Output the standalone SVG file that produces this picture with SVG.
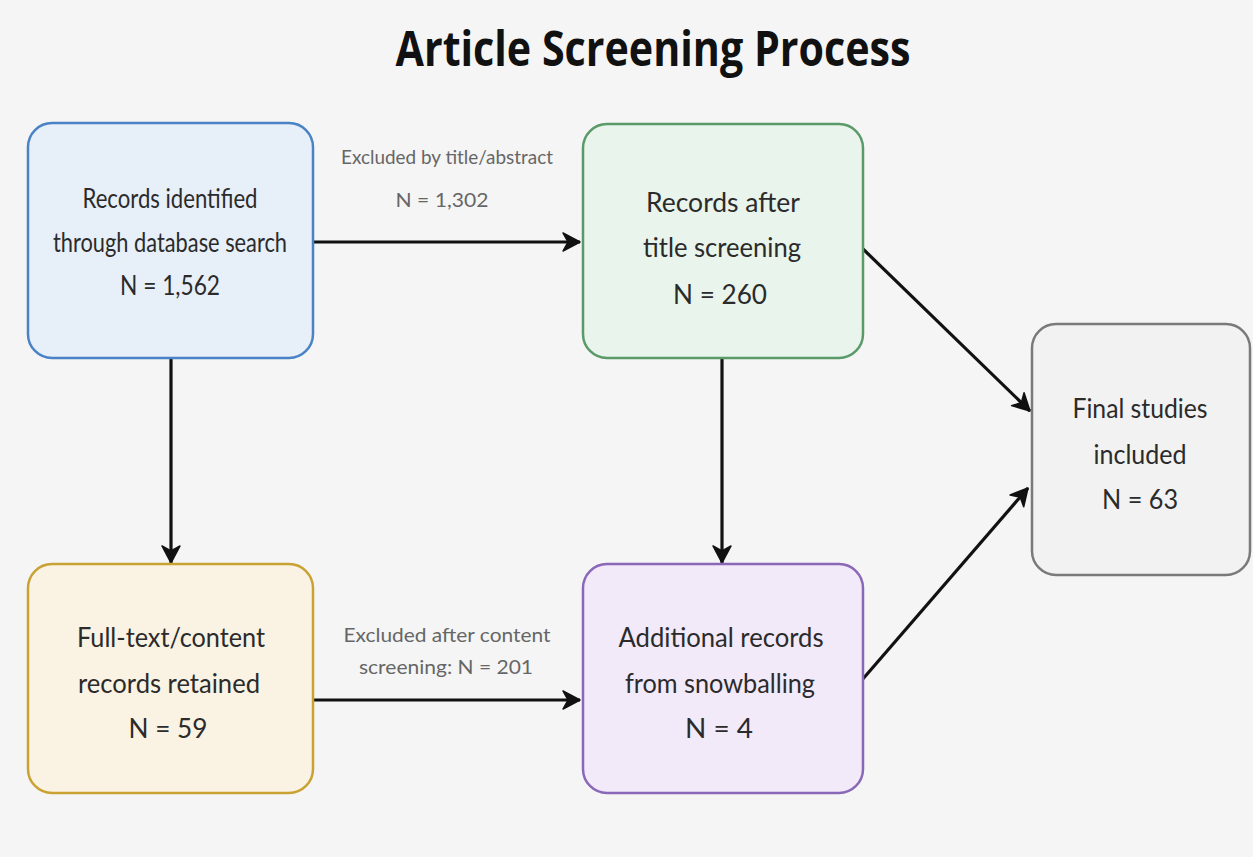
<svg xmlns="http://www.w3.org/2000/svg" width="1253" height="857" viewBox="0 0 1253 857">
<defs>
<style>
.bg{fill:#f5f5f5}
.box{stroke-width:2.5}
.t{font-family:Lato,"Noto Sans","Liberation Sans",sans-serif;font-size:26px;fill:#2b2b2b;text-anchor:middle}
.lbl{font-family:Lato,"Noto Sans","Liberation Sans",sans-serif;font-size:20px;fill:#666;text-anchor:middle}
.title{font-family:"Open Sans","Liberation Sans",sans-serif;font-size:48px;font-weight:bold;fill:#111;text-anchor:middle}
.conn{stroke:#111;stroke-width:3.2;fill:none}
</style>
<marker id="arr" markerUnits="userSpaceOnUse" markerWidth="24" markerHeight="24" refX="19" refY="11" orient="auto" viewBox="0 0 24 22">
<path d="M2,2 L19,11 L2,20 L7,11 Z" fill="#111" stroke="#111" stroke-width="1.5" stroke-linejoin="round"/>
</marker>
</defs>
<rect class="bg" x="0" y="0" width="1253" height="857"/>
<text class="title" x="653" y="66" textLength="515" lengthAdjust="spacingAndGlyphs">Article Screening Process</text>

<g id="connectors">
<line class="conn" x1="313" y1="242" x2="580" y2="242" marker-end="url(#arr)"/>
<line class="conn" x1="313" y1="700" x2="580" y2="700" marker-end="url(#arr)"/>
<line class="conn" x1="171" y1="358" x2="171" y2="563" marker-end="url(#arr)"/>
<line class="conn" x1="722" y1="358" x2="722" y2="563" marker-end="url(#arr)"/>
<line class="conn" x1="862" y1="248" x2="1030" y2="411" marker-end="url(#arr)"/>
<line class="conn" x1="862" y1="680" x2="1028" y2="488" marker-end="url(#arr)"/>
<text class="lbl" x="447" y="164" textLength="212" lengthAdjust="spacingAndGlyphs">Excluded by title/abstract</text>
<text class="lbl" x="442" y="207" textLength="93" lengthAdjust="spacingAndGlyphs">N = 1,302</text>
<text class="lbl" x="447" y="642" textLength="207" lengthAdjust="spacingAndGlyphs">Excluded after content</text>
<text class="lbl" x="446" y="674" textLength="174" lengthAdjust="spacingAndGlyphs">screening: N = 201</text>
</g>

<g id="node-records-identified">
<rect class="box" x="28" y="123" width="285" height="235" rx="24" fill="#e7eff9" stroke="#4a82c6"/>
<text class="t" x="170" y="208" textLength="175" lengthAdjust="spacingAndGlyphs">Records identified</text>
<text class="t" x="170" y="252" textLength="234" lengthAdjust="spacingAndGlyphs">through database search</text>
<text class="t" x="170" y="295" textLength="100" lengthAdjust="spacingAndGlyphs">N = 1,562</text>
</g>

<g id="node-title-screening">
<rect class="box" x="583" y="124" width="280" height="234" rx="24" fill="#e8f4ec" stroke="#5a9a68"/>
<text class="t" x="723" y="212" textLength="154" lengthAdjust="spacingAndGlyphs">Records after</text>
<text class="t" x="722" y="257" textLength="158" lengthAdjust="spacingAndGlyphs">title screening</text>
<text class="t" x="720" y="304" textLength="94" lengthAdjust="spacingAndGlyphs">N = 260</text>
</g>

<g id="node-final">
<rect class="box" x="1032" y="324" width="218" height="251" rx="24" fill="#f2f2f2" stroke="#7a7a7a"/>
<text class="t" x="1140" y="418" textLength="135" lengthAdjust="spacingAndGlyphs">Final studies</text>
<text class="t" x="1140" y="464" textLength="93" lengthAdjust="spacingAndGlyphs">included</text>
<text class="t" x="1140" y="509" textLength="76" lengthAdjust="spacingAndGlyphs">N = 63</text>
</g>

<g id="node-full-text">
<rect class="box" x="28" y="564" width="285" height="229" rx="24" fill="#faf2e3" stroke="#c9a233"/>
<text class="t" x="171" y="647" textLength="188" lengthAdjust="spacingAndGlyphs">Full-text/content</text>
<text class="t" x="169" y="693" textLength="182" lengthAdjust="spacingAndGlyphs">records retained</text>
<text class="t" x="168" y="738" textLength="79" lengthAdjust="spacingAndGlyphs">N = 59</text>
</g>

<g id="node-snowballing">
<rect class="box" x="583" y="564" width="280" height="229" rx="24" fill="#f2e9f9" stroke="#8a68b8"/>
<text class="t" x="721" y="647" textLength="205" lengthAdjust="spacingAndGlyphs">Additional records</text>
<text class="t" x="720" y="693" textLength="190" lengthAdjust="spacingAndGlyphs">from snowballing</text>
<text class="t" x="719" y="738" textLength="68" lengthAdjust="spacingAndGlyphs">N = 4</text>
</g>
</svg>
